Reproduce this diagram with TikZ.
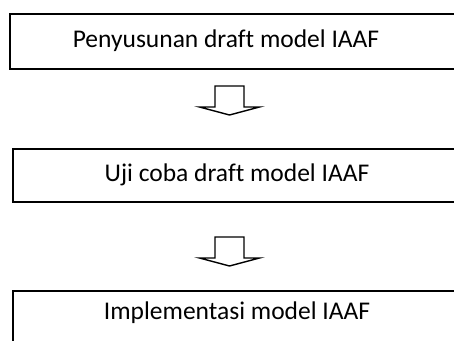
\documentclass[tikz,border=0pt]{standalone}
\usepackage{fontspec}
\setmainfont[Ligatures={NoCommon}]{Carlito}
\usetikzlibrary{calc,positioning}
\tikzset{
    stage/.style={rectangle, draw=black, line width=1.6pt, anchor=north west, minimum width=470pt},
    stagetext/.style={font=\fontsize{25.5}{30}\selectfont, inner sep=0pt},
    blockdown/.pic={
        \draw[line width=1.4pt, line join=miter] (-14.5,0) -- (-14.5,21) -- (-30,21) -- (0,29)
            -- (30,21) -- (14.5,21) -- (14.5,0) -- cycle;
    }
}
\begin{document}
\begin{tikzpicture}[x=1pt, y=-1pt]
\useasboundingbox (0,0) rectangle (454,340);
\clip (0,0) rectangle (454,340);

% Stages
\node[stage, minimum height=55pt] (s1) at (9,13) {};
\node[stage, minimum height=53pt] (s2) at (12,148) {};
\node[stage, minimum height=60pt] (s3) at (12,290) {};

\node[stagetext] (t1) at (226,40.5) {Penyusunan draft model IAAF};
\node[stagetext] (t2) at (237,174.5) {Uji coba draft model IAAF};
\node[stagetext] (t3) at (237,313) {Implementasi model IAAF};

% Arrows
\coordinate (a1) at (229.5,86);
\coordinate (a2) at (229.5,237);
\pic at (a1) {blockdown};
\pic at (a2) {blockdown};

\end{tikzpicture}
\end{document}
